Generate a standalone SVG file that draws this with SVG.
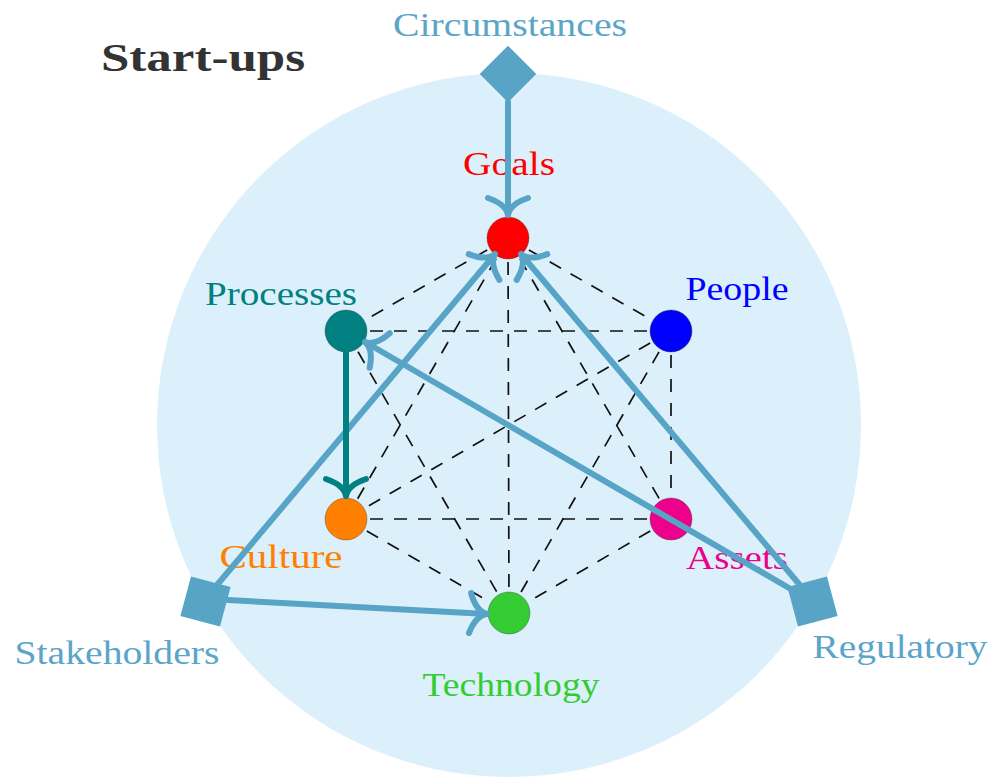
<svg xmlns="http://www.w3.org/2000/svg" width="993" height="777" viewBox="0 0 993 777">
<defs>
<style>
.lbl{font-family:"Liberation Serif","DejaVu Serif",serif;font-size:34px;text-anchor:middle}
.ext{fill:#5aa5c8}
.dash{stroke:#111;stroke-width:1.7;stroke-dasharray:13 11;fill:none}
.arr{stroke:#58a4c6;stroke-width:6;fill:none;stroke-linecap:round}
.node{stroke:#333;stroke-opacity:0.45;stroke-width:0.8}
</style>
<marker id="ah" markerUnits="userSpaceOnUse" viewBox="-22 -24 26 48" refX="0" refY="0" markerWidth="26" markerHeight="48" orient="auto" overflow="visible">
<path d="M -17 -20 Q -11 -2 0 0 Q -11 2 -17 20" fill="none" stroke="#58a4c6" stroke-width="6" stroke-linecap="round"/>
</marker>
<marker id="aht" markerUnits="userSpaceOnUse" viewBox="-22 -24 26 48" refX="0" refY="0" markerWidth="26" markerHeight="48" orient="auto" overflow="visible">
<path d="M -17 -20 Q -11 -2 0 0 Q -11 2 -17 20" fill="none" stroke="#008080" stroke-width="6" stroke-linecap="round"/>
</marker>
</defs>
<rect width="993" height="777" fill="#ffffff"/>
<circle cx="509" cy="425" r="352" fill="#dcf0fb"/>
<text x="203" y="71" font-family="Liberation Serif, DejaVu Serif, serif" font-size="40" font-weight="bold" fill="#333333" text-anchor="middle" textLength="204" lengthAdjust="spacingAndGlyphs">Start-ups</text>
<g id="dashed-links">
<line class="dash" x1="508" y1="238" x2="671" y2="331"/>
<line class="dash" x1="508" y1="238" x2="346" y2="331"/>
<line class="dash" x1="508" y1="238" x2="346" y2="519"/>
<line class="dash" x1="508" y1="238" x2="671" y2="519"/>
<line class="dash" x1="508" y1="238" x2="509" y2="613"/>
<line class="dash" x1="346" y1="331" x2="671" y2="331"/>
<line class="dash" x1="346" y1="331" x2="671" y2="519"/>
<line class="dash" x1="346" y1="331" x2="509" y2="613"/>
<line class="dash" x1="671" y1="331" x2="671" y2="519"/>
<line class="dash" x1="671" y1="331" x2="346" y2="519"/>
<line class="dash" x1="671" y1="331" x2="509" y2="613"/>
<line class="dash" x1="346" y1="519" x2="671" y2="519"/>
<line class="dash" x1="346" y1="519" x2="509" y2="613"/>
<line class="dash" x1="671" y1="519" x2="509" y2="613"/>
</g>
<g id="goals"><circle class="node" cx="508" cy="238" r="21" fill="#ff0000"/><text class="lbl" x="509" y="175" fill="#ff0000" textLength="92" lengthAdjust="spacingAndGlyphs">Goals</text></g>
<g id="people"><circle class="node" cx="671" cy="331" r="21" fill="#0000ff"/><text class="lbl" x="737" y="300" fill="#0000ff" textLength="103" lengthAdjust="spacingAndGlyphs">People</text></g>
<g id="assets"><circle class="node" cx="671" cy="519" r="21" fill="#ec008c"/><text class="lbl" x="737" y="569" fill="#ec008c" textLength="102" lengthAdjust="spacingAndGlyphs">Assets</text></g>
<g id="technology"><circle class="node" cx="509" cy="613" r="21" fill="#33cc33"/><text class="lbl" x="511" y="696" fill="#33cc33" textLength="177" lengthAdjust="spacingAndGlyphs">Technology</text></g>
<g id="culture"><circle class="node" cx="346" cy="519" r="21" fill="#ff8000"/><text class="lbl" x="281" y="568" fill="#ff8000" textLength="123" lengthAdjust="spacingAndGlyphs">Culture</text></g>
<g id="processes"><circle class="node" cx="346" cy="331" r="21" fill="#008080"/><text class="lbl" x="281" y="305" fill="#008080" textLength="152" lengthAdjust="spacingAndGlyphs">Processes</text></g>
<g id="circumstances"><rect x="488" y="54" width="40" height="40" fill="#58a4c6" transform="rotate(45 508 74)"/><text class="lbl ext" x="510" y="36" textLength="234" lengthAdjust="spacingAndGlyphs">Circumstances</text></g>
<g id="stakeholders"><rect x="185" y="581" width="41" height="41" fill="#58a4c6" transform="rotate(15 205.5 601.5)"/><text class="lbl ext" x="117" y="664" textLength="205" lengthAdjust="spacingAndGlyphs">Stakeholders</text></g>
<g id="regulatory"><rect x="792" y="581" width="41" height="41" fill="#58a4c6" transform="rotate(-15 812.5 601.5)"/><text class="lbl ext" x="900" y="658" textLength="175" lengthAdjust="spacingAndGlyphs">Regulatory</text></g>
<g id="connectors">
<line class="arr" x1="508" y1="102" x2="508" y2="215" marker-end="url(#ah)"/>
<line class="arr" x1="217" y1="585" x2="495" y2="254" marker-end="url(#ah)"/>
<line class="arr" x1="799" y1="584" x2="521" y2="254" marker-end="url(#ah)"/>
<line class="arr" x1="789" y1="588" x2="365" y2="342" marker-end="url(#ah)"/>
<line class="arr" x1="228" y1="600" x2="487" y2="614" marker-end="url(#ah)"/>
<line x1="346" y1="352" x2="346" y2="496" stroke="#008080" stroke-width="6" stroke-linecap="round" marker-end="url(#aht)"/>
</g>
</svg>
